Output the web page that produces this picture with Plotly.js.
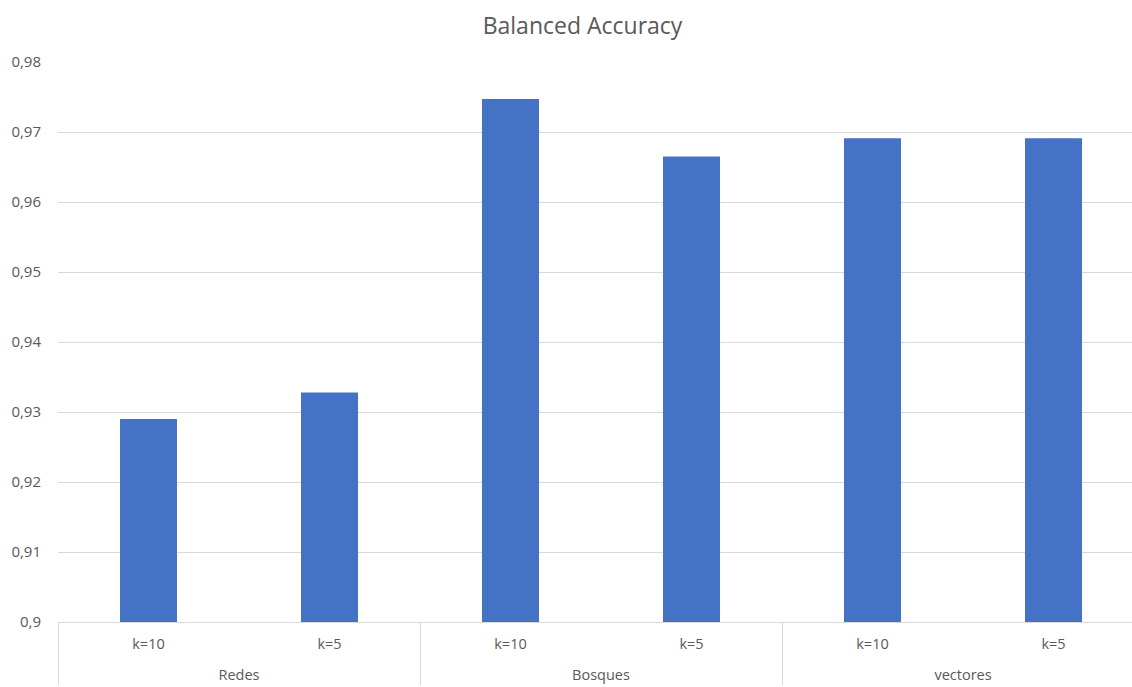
<!DOCTYPE html>
<html>
<head>
<meta charset="utf-8">
<script src="https://cdn.plot.ly/plotly-3.0.1.min.js"></script>
<style>
  html, body { margin: 0; padding: 0; overflow: hidden; background: #ffffff; }
  #chart { width: 1144px; height: 687px; }
</style>
</head>
<body>
<div id="chart"></div>
<script>
// Model families and cross-validation folds
const groups = ['Redes', 'Redes', 'Bosques', 'Bosques', 'vectores', 'vectores'];
const folds = ['k=10', 'k=5', 'k=10', 'k=5', 'k=10', 'k=5'];
const balancedAccuracy = [0.929, 0.9328, 0.9747, 0.9665, 0.9691, 0.9691];

const yTickVals = [0.9, 0.91, 0.92, 0.93, 0.94, 0.95, 0.96, 0.97, 0.98];
const yTickText = ['0,9', '0,91', '0,92', '0,93', '0,94', '0,95', '0,96', '0,97', '0,98'];

const textGrey = '#595959';
const gridGrey = '#d9d9d9';

// Inner labels carry an empty second line so the family row sits lower
const foldLabels = folds.map(f => f + '<br>\u00a0');

const trace = {
  type: 'bar',
  x: [groups, foldLabels],
  y: balancedAccuracy,
  width: 0.315,
  marker: { color: '#4472c4', line: { width: 0 } },
  hoverinfo: 'x+y'
};

const layout = {
  width: 1144,
  height: 687,
  margin: { l: 58, r: 0, t: 62, b: 65 },
  paper_bgcolor: '#ffffff',
  plot_bgcolor: '#ffffff',
  font: { family: 'Open Sans, sans-serif', color: textGrey, size: 14 },
  title: {
    text: 'Balanced Accuracy',
    font: { size: 23, color: textGrey },
    xref: 'paper',
    x: 0.483,
    xanchor: 'center',
    yref: 'container',
    y: 0.962,
    yanchor: 'middle'
  },
  showlegend: false,
  xaxis: {
    type: 'multicategory',
    showgrid: false,
    showline: true,
    linecolor: gridGrey,
    linewidth: 1,
    ticks: '',
    showdividers: true,
    dividercolor: gridGrey,
    dividerwidth: 1,
    ticklabelstandoff: 9,
    tickfont: { size: 14.5, color: textGrey }
  },
  yaxis: {
    range: [0.9, 0.98],
    tickvals: yTickVals,
    ticktext: yTickText,
    showgrid: true,
    gridcolor: gridGrey,
    gridwidth: 1,
    zeroline: false,
    showline: false,
    ticks: '',
    ticklabelstandoff: 16,
    tickfont: { size: 15, color: textGrey }
  }
};

Plotly.newPlot('chart', [trace], layout, { displayModeBar: false, staticPlot: true });
</script>
</body>
</html>
